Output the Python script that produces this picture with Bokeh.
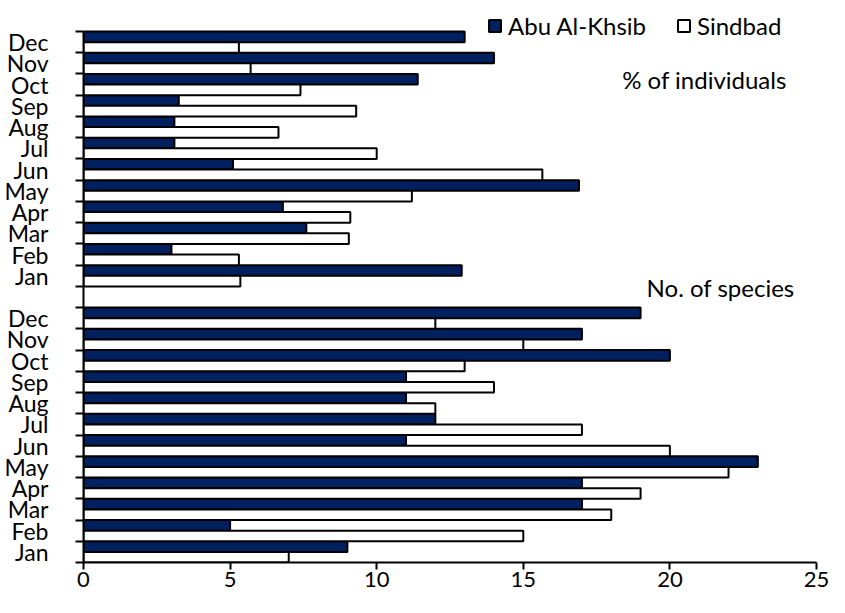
from bokeh.plotting import figure
from bokeh.models import ColumnDataSource, FixedTicker, Legend, LegendItem, Label, Range1d
from bokeh.embed import file_html
from bokeh.resources import INLINE

months = ["Jan", "Feb", "Mar", "Apr", "May", "Jun", "Jul", "Aug", "Sep", "Oct", "Nov", "Dec"]
series = ["Abu Al-Khsib", "Sindbad"]
section_titles = ["% of individuals", "No. of species"]

# % of individuals (upper block)
pct_abu = [12.9, 3.0, 7.6, 6.8, 16.9, 5.1, 3.1, 3.1, 3.25, 11.4, 14.0, 13.0]
pct_sind = [5.35, 5.3, 9.05, 9.1, 11.2, 15.65, 10.0, 6.65, 9.3, 7.4, 5.7, 5.3]
# No. of species (lower block)
spp_abu = [9, 5, 17, 17, 23, 11, 12, 11, 11, 20, 17, 19]
spp_sind = [7, 15, 18, 19, 22, 20, 17, 12, 14, 13, 15, 12]

x_ticks = [0, 5, 10, 15, 20, 25]

NAVY = "#002060"
FONT = "Lato"

n = len(months)
# slots: lower block 0..11, empty slot 12, upper block 13..24
slots = list(range(n)) + [n + 1 + i for i in range(n)]
abu_vals = spp_abu + pct_abu
sind_vals = spp_sind + pct_sind
labels_all = months + months

src_abu = ColumnDataSource(dict(y=[s + 0.75 for s in slots], v=abu_vals))
src_sind = ColumnDataSource(dict(y=[s + 0.25 for s in slots], v=sind_vals))

total = 2 * n + 1
p = figure(width=829, height=597,
           x_range=Range1d(0, 25), y_range=Range1d(0, total + 1.46),
           output_backend="svg", toolbar_location=None,
           min_border_left=83, min_border_right=13,
           min_border_top=0, min_border_bottom=35)
p.outline_line_color = None
p.grid.visible = False
p.background_fill_color = "white"
p.border_fill_color = "white"

r_abu = p.hbar(y="y", right="v", left=0, height=0.5, source=src_abu,
               fill_color=NAVY, line_color="black", line_width=2)
r_sind = p.hbar(y="y", right="v", left=0, height=0.5, source=src_sind,
                fill_color="white", line_color="black", line_width=2)

# y axis: labels at slot centers, tick marks at slot boundaries
centers = [s + 0.5 for s in slots]
yax = p.yaxis[0]
yax.bounds = (0, total)
yax.ticker = FixedTicker(ticks=centers, minor_ticks=list(range(total + 1)))
yax.major_label_overrides = {c: lab for c, lab in zip(centers, labels_all)}
yax.major_tick_out = 0
yax.major_tick_in = 0
yax.minor_tick_out = 8
yax.minor_tick_in = 0
yax.minor_tick_line_width = 2
yax.minor_tick_line_color = "black"
yax.axis_line_width = 2
yax.axis_line_color = "black"
yax.major_label_text_font = FONT
yax.major_label_text_font_size = "23px"
yax.major_label_text_color = "black"
yax.major_label_standoff = 27

xax = p.xaxis[0]
xax.ticker = FixedTicker(ticks=x_ticks)
xax.minor_tick_out = 0
xax.minor_tick_in = 0
xax.major_tick_out = 7
xax.major_tick_in = 0
xax.major_tick_line_width = 2
xax.major_tick_line_color = "black"
xax.axis_line_width = 2
xax.axis_line_color = "black"
xax.major_label_text_font = FONT
xax.major_label_text_font_size = "22px"
xax.major_label_text_color = "black"
xax.major_label_standoff = 2

legend = Legend(items=[LegendItem(label=series[0], renderers=[r_abu]),
                       LegendItem(label=series[1], renderers=[r_sind])],
                orientation="horizontal", location=(404, 522),
                glyph_width=15, glyph_height=15, label_standoff=6, spacing=30,
                padding=0, margin=0, border_line_alpha=0,
                background_fill_alpha=0,
                label_text_font=FONT, label_text_font_size="24px",
                label_text_color="black")
p.add_layout(legend, "center")

p.add_layout(Label(x=21.18, y=22.74, text=section_titles[0], text_font=FONT,
                   text_font_size="24px", text_align="center", text_baseline="middle",
                   text_color="black"))
p.add_layout(Label(x=21.73, y=12.95, text=section_titles[1], text_font=FONT,
                   text_font_size="24px", text_align="center", text_baseline="middle",
                   text_color="black"))

open("out.html", "w").write(file_html(p, INLINE))
